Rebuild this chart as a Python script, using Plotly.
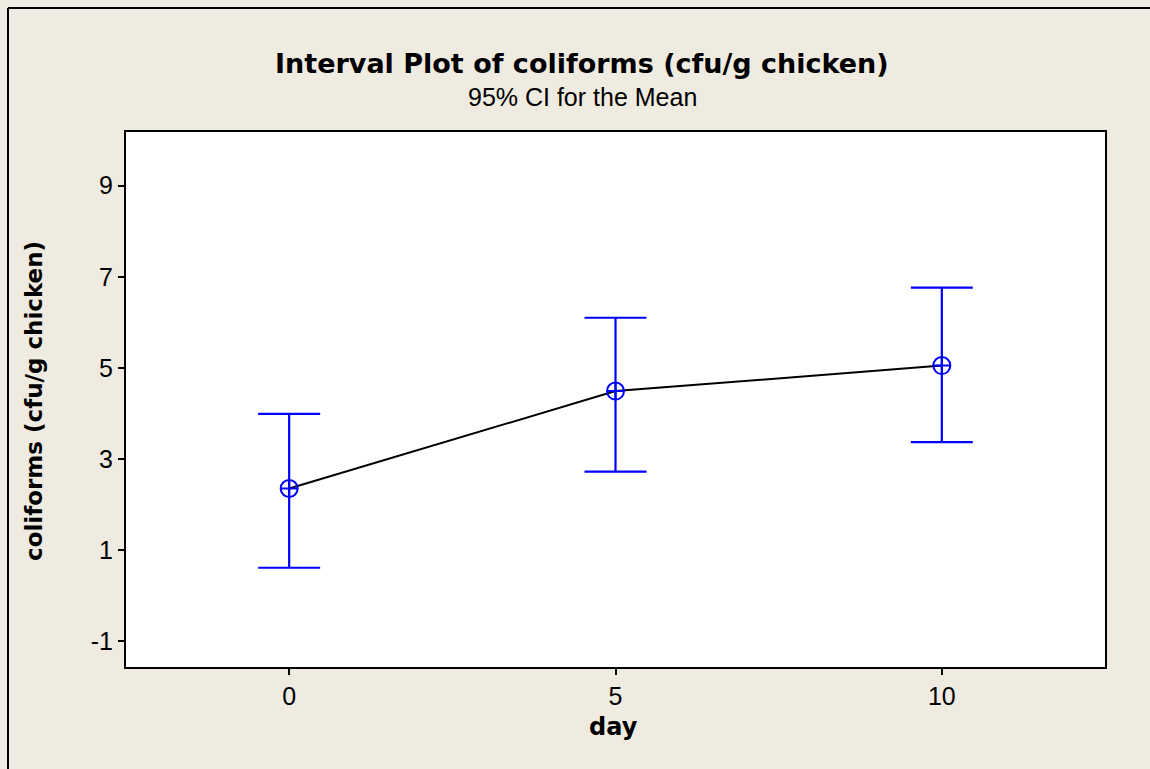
import plotly.graph_objects as go

days = [0, 5, 10]
means = [2.35, 4.49, 5.05]
upper = [3.99, 6.10, 6.76]
lower = [0.61, 2.72, 3.37]
y_ticks = [-1, 1, 3, 5, 7, 9]
y_tick_text = ["-1", "1", "3", "5", "7", "9"]
x_ticks = [0, 5, 10]

err_plus = [u - m for u, m in zip(upper, means)]
err_minus = [m - l for m, l in zip(means, lower)]

BG = "#EFEBE1"
W, H = 1150, 769
L, R, T, B = 126, 45, 132, 102
pw, ph = W - L - R, H - T - B

def px(xp):
    return (xp - L) / pw

def py(yp):
    return (H - B - yp) / ph

fig = go.Figure()
fig.add_trace(go.Scatter(
    x=days, y=means, mode="lines",
    line=dict(color="black", width=2),
    hoverinfo="skip", showlegend=False,
))
fig.add_trace(go.Scatter(
    x=days, y=means, mode="markers",
    marker=dict(symbol="circle-cross-open", size=17, color="#0000FF",
                line=dict(color="#0000FF", width=2)),
    error_y=dict(type="data", symmetric=False, array=err_plus, arrayminus=err_minus,
                 color="#0000FF", thickness=2.2, width=31),
    showlegend=False,
))

tickfont = dict(family="Liberation Sans", size=25, color="black")
fig.update_layout(
    width=W, height=H,
    margin=dict(l=L, r=R, t=T, b=B),
    paper_bgcolor=BG, plot_bgcolor="white",
    xaxis=dict(range=[-2.5, 12.5], tickvals=x_ticks, ticks="outside", ticklen=6,
               tickwidth=2, tickcolor="black", showline=True, linecolor="black",
               linewidth=2, mirror=True, showgrid=False, zeroline=False,
               tickfont=tickfont),
    yaxis=dict(range=[-1.57, 10.18], tickvals=y_ticks, ticktext=y_tick_text,
               ticks="outside", ticklen=6,
               tickwidth=2, tickcolor="black", showline=True, linecolor="black",
               linewidth=2, mirror=True, showgrid=False, zeroline=False,
               tickfont=tickfont),
    annotations=[
        dict(text="<b>Interval Plot of coliforms (cfu/g chicken)</b>", x=px(582), y=py(63),
             xref="paper", yref="paper", showarrow=False, xanchor="center", yanchor="middle",
             font=dict(family="DejaVu Sans", size=27, color="black")),
        dict(text="95% CI for the Mean", x=px(582), y=py(97),
             xref="paper", yref="paper", showarrow=False, xanchor="center", yanchor="middle",
             font=dict(family="Liberation Sans", size=25, color="black")),
        dict(text="<b>day</b>", x=px(613), y=py(727),
             xref="paper", yref="paper", showarrow=False, xanchor="center", yanchor="middle",
             font=dict(family="DejaVu Sans", size=24, color="black")),
        dict(text="<b>coliforms (cfu/g chicken)</b>", x=px(34), y=py(401),
             xref="paper", yref="paper", showarrow=False, textangle=-90,
             xanchor="center", yanchor="middle",
             font=dict(family="DejaVu Sans", size=23, color="black")),
    ],
    shapes=[
        dict(type="line", xref="paper", yref="paper", x0=px(8), x1=px(8),
             y0=py(8), y1=py(800), line=dict(color="black", width=2)),
        dict(type="line", xref="paper", yref="paper", x0=px(8), x1=px(1200),
             y0=py(8), y1=py(8), line=dict(color="black", width=2)),
    ],
)

fig.write_html(
    "out.html",
    config={"displayModeBar": False},
    post_script="document.body.style.margin='0px';document.body.style.overflow='hidden';",
)
